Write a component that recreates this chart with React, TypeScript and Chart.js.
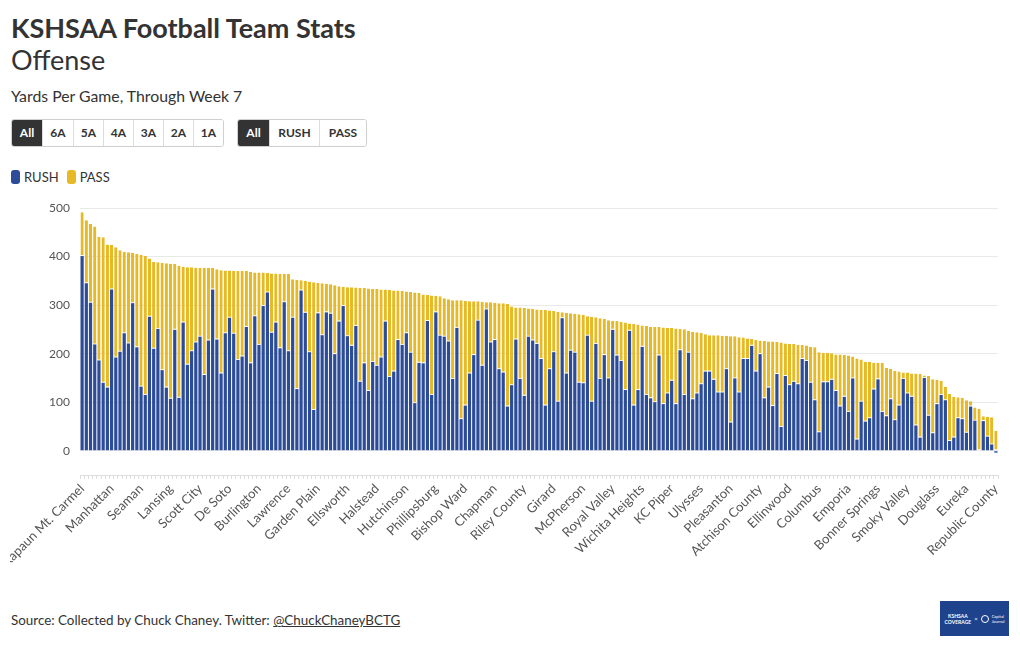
import React, { useEffect, useRef } from "react";
import { Chart, registerables } from "chart.js";

Chart.register(...registerables);

const FONT = "Lato, 'Noto Sans', sans-serif";

// Team names shown on the x axis (every 7th team is labelled)
const labeledTeams = [
  "Kapaun Mt. Carmel", "Manhattan", "Seaman", "Lansing", "Scott City", "De Soto",
  "Burlington", "Lawrence", "Garden Plain", "Ellsworth", "Halstead", "Hutchinson",
  "Phillipsburg", "Bishop Ward", "Chapman", "Riley County", "Girard", "McPherson",
  "Royal Valley", "Wichita Heights", "KC Piper", "Ulysses", "Pleasanton",
  "Atchison County", "Ellinwood", "Columbus", "Emporia", "Bonner Springs",
  "Smoky Valley", "Douglass", "Eureka", "Republic County",
];
const LABEL_EVERY = 7;

// Rushing yards per game
const rush = [
  401, 345, 305, 219, 186, 140, 130, 332, 192, 204, 242, 221, 304, 213, 132, 115, 276, 210, 251, 166,
  130, 107, 249, 109, 264, 177, 205, 223, 235, 156, 227, 332, 229, 159, 242, 274, 241, 187, 194, 255,
  180, 277, 218, 298, 326, 243, 264, 211, 306, 205, 274, 127, 330, 284, 203, 84, 283, 238, 285, 282,
  199, 266, 298, 236, 216, 257, 142, 180, 123, 183, 175, 192, 266, 152, 163, 228, 218, 242, 202, 98,
  181, 180, 267, 115, 285, 237, 235, 225, 148, 253, 65, 93, 159, 197, 268, 175, 291, 223, 228, 168,
  161, 91, 135, 229, 148, 113, 235, 227, 220, 189, 93, 168, 203, 101, 273, 159, 206, 202, 140, 139,
  237, 101, 220, 148, 197, 149, 249, 196, 185, 125, 247, 93, 125, 214, 115, 108, 100, 196, 96, 118,
  144, 96, 207, 115, 202, 106, 118, 137, 163, 163, 146, 120, 120, 168, 58, 149, 120, 189, 189, 216,
  163, 199, 108, 130, 92, 158, 49, 154, 135, 142, 137, 189, 185, 140, 104, 38, 141, 141, 146, 123,
  91, 111, 80, 149, 23, 101, 60, 67, 126, 147, 80, 71, 106, 63, 93, 148, 118, 111, 52, 27,
  150, 72, 36, 96, 115, 104, 20, 27, 67, 65, 37, 91, 62, 0, 61, 29, 13, -4,
];

// Passing yards per game
const pass = [
  90, 130, 162, 243, 255, 300, 295, 92, 227, 209, 168, 188, 104, 192, 271, 286, 120, 179, 137, 221,
  256, 278, 136, 272, 115, 201, 173, 154, 142, 221, 150, 45, 145, 213, 129, 97, 129, 183, 176, 115,
  188, 90, 149, 69, 40, 122, 101, 153, 58, 159, 79, 225, 21, 66, 145, 263, 63, 107, 59, 61,
  142, 73, 40, 101, 121, 79, 193, 155, 211, 150, 158, 140, 66, 179, 167, 102, 111, 86, 125, 228,
  144, 142, 54, 205, 34, 81, 79, 87, 162, 57, 245, 216, 149, 111, 40, 132, 15, 83, 77, 136,
  143, 211, 162, 66, 147, 181, 58, 65, 71, 101, 197, 121, 85, 185, 12, 125, 77, 80, 141, 141,
  40, 175, 55, 125, 75, 120, 19, 71, 80, 139, 15, 168, 135, 44, 142, 147, 155, 59, 158, 135,
  109, 156, 44, 135, 45, 139, 126, 106, 77, 75, 92, 118, 117, 69, 178, 87, 114, 44, 42, 14,
  65, 28, 118, 95, 133, 66, 174, 67, 85, 78, 81, 29, 32, 74, 109, 165, 61, 61, 55, 75,
  107, 86, 116, 45, 167, 87, 123, 116, 55, 34, 101, 100, 63, 101, 70, 13, 43, 48, 107, 131,
  5, 82, 111, 50, 29, 28, 97, 84, 43, 44, 67, 11, 27, 86, 10, 41, 56, 41,
];

const categories = rush.map((_, i) =>
  i % LABEL_EVERY === 0 ? labeledTeams[i / LABEL_EVERY] : ""
);

const yTicks = [0, 100, 200, 300, 400, 500];

const RUSH_COLOR = "#2c4c97";
const PASS_COLOR = "#e7b925";

const levelButtons = ["All", "6A", "5A", "4A", "3A", "2A", "1A"];
const levelWidths = [30, 31, 30, 30, 30, 30, 30];
const typeButtons = ["All", "RUSH", "PASS"];
const typeWidths = [31, 50, 47];

function ButtonGroup({ labels, widths, left }: { labels: string[]; widths: number[]; left: number }) {
  return (
    <div
      style={{
        position: "absolute",
        left,
        top: 119,
        height: 28,
        display: "flex",
        border: "1px solid #cfcfcf",
        borderRadius: 3,
        overflow: "hidden",
        boxSizing: "border-box",
      }}
    >
      {labels.map((l, i) => (
        <div
          key={l + i}
          style={{
            width: widths[i],
            height: 26,
            lineHeight: "26px",
            textAlign: "center",
            fontFamily: FONT,
            fontWeight: 700,
            fontSize: 12,
            color: i === 0 ? "#fff" : "#333",
            background: i === 0 ? "#333" : "#fff",
            borderLeft: i === 0 ? "none" : "1px solid #dcdcdc",
            boxSizing: "border-box",
          }}
        >
          {l}
        </div>
      ))}
    </div>
  );
}

export default function App() {
  const canvasRef = useRef<HTMLCanvasElement | null>(null);

  useEffect(() => {
    document.body.style.margin = "0";
    const ctx = canvasRef.current;
    if (!ctx) return;
    const chart = new Chart(ctx, {
      type: "bar",
      data: {
        labels: categories,
        datasets: [
          {
            label: "RUSH",
            data: rush,
            backgroundColor: RUSH_COLOR,
            borderWidth: 0,
            barPercentage: 0.76,
            categoryPercentage: 1,
          },
          {
            label: "PASS",
            data: pass,
            backgroundColor: PASS_COLOR,
            borderColor: "#ffffff",
            borderWidth: { top: 0, left: 0, right: 0, bottom: 1 },
            borderSkipped: false,
            barPercentage: 0.76,
            categoryPercentage: 1,
          },
        ],
      },
      options: {
        responsive: false,
        animation: false,
        layout: { padding: { top: 10, right: 12, left: 0, bottom: 0 } },
        plugins: { legend: { display: false }, tooltip: { enabled: false } },
        scales: {
          x: {
            stacked: true,
            grid: {
              display: true,
              drawOnChartArea: false,
              drawTicks: true,
              tickLength: 4,
              color: "#dedede",
            },
            border: { display: true, color: "#dedede" },
            ticks: {
              autoSkip: false,
              minRotation: 45,
              maxRotation: 45,
              padding: 2,
              color: "#555",
              font: { family: FONT, size: 13 },
            },
            afterFit: (s: any) => {
              s.height = 115;
              s.paddingLeft = 0;
              s.paddingRight = 0;
            },
          },
          y: {
            stacked: true,
            min: -50,
            max: 500,
            grid: { color: "#e9e9e9", drawTicks: false },
            border: { display: false },
            ticks: {
              stepSize: 100,
              padding: 10,
              color: "#555",
              font: { family: FONT, size: 12 },
            },
            afterBuildTicks: (axis: any) => {
              axis.ticks = yTicks.map((v) => ({ value: v }));
            },
            afterFit: (s: any) => {
              s.width = 70;
              s.paddingTop = 0;
              s.paddingBottom = 0;
            },
          },
        },
      },
    });
    return () => chart.destroy();
  }, []);

  return (
    <div style={{ position: "relative", width: 1020, height: 650, background: "#fff", fontFamily: FONT, color: "#333" }}>
      <div style={{ position: "absolute", left: 11, top: 12, fontSize: 27, lineHeight: "32px", fontWeight: 700, color: "#333", whiteSpace: "nowrap" }}>
        KSHSAA Football Team Stats
      </div>
      <div style={{ position: "absolute", left: 11, top: 44, fontSize: 27, lineHeight: "32px", fontWeight: 400, color: "#333", whiteSpace: "nowrap" }}>
        Offense
      </div>
      <div style={{ position: "absolute", left: 11, top: 86, fontSize: 15.8, lineHeight: "20px", color: "#333", whiteSpace: "nowrap" }}>
        Yards Per Game, Through Week 7
      </div>
      <ButtonGroup labels={levelButtons} widths={levelWidths} left={11} />
      <ButtonGroup labels={typeButtons} widths={typeWidths} left={237} />
      <div style={{ position: "absolute", left: 11, top: 170, height: 14, display: "flex", alignItems: "center", fontSize: 13, color: "#333" }}>
        <span style={{ display: "inline-block", width: 9, height: 14, borderRadius: 3, background: RUSH_COLOR, marginRight: 4 }} />
        <span style={{ marginRight: 8 }}>RUSH</span>
        <span style={{ display: "inline-block", width: 9, height: 14, borderRadius: 3, background: PASS_COLOR, marginRight: 4 }} />
        <span>PASS</span>
      </div>
      <div style={{ position: "absolute", left: 10, top: 198, width: 1000, height: 392 }}>
        <canvas ref={canvasRef} width={1000} height={392} />
      </div>
      <div style={{ position: "absolute", left: 11, top: 611, fontSize: 13.4, lineHeight: "18px", color: "#333", whiteSpace: "nowrap" }}>
        Source: Collected by Chuck Chaney. Twitter: <span style={{ textDecoration: "underline" }}>@ChuckChaneyBCTG</span>
      </div>
      <div style={{ position: "absolute", left: 940, top: 601, width: 69, height: 35, background: "#1f428c", display: "flex", alignItems: "center", justifyContent: "center", gap: 3 }}>
        <div style={{ color: "#fff", fontSize: 5, lineHeight: "6px", textAlign: "center", fontWeight: 700 }}>
          KSHSAA<br />COVERAGE
        </div>
        <div style={{ color: "#fff", fontSize: 6 }}>×</div>
        <div style={{ width: 8, height: 8, borderRadius: 4, border: "1px solid #fff", boxSizing: "border-box" }} />
        <div style={{ color: "#fff", fontSize: 4, lineHeight: "5px" }}>
          Capital<br />Journal
        </div>
      </div>
    </div>
  );
}
